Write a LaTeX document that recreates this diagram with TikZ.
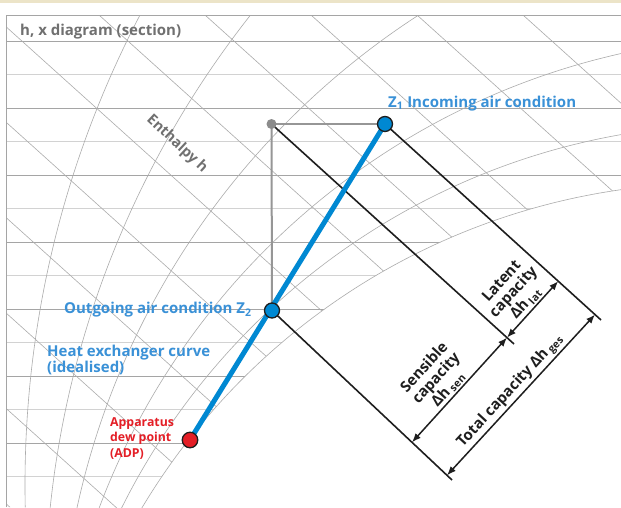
\documentclass[tikz,border=0pt]{standalone}
\usepackage{fontspec}
\setmainfont{Open Sans}
\usetikzlibrary{arrows.meta}
\pgfdeclarelayer{gridlayer}
\pgfdeclarelayer{linelayer}
\pgfsetlayers{gridlayer,linelayer,main}
\definecolor{gridA}{RGB}{165,165,165}
\definecolor{gridB}{RGB}{210,210,210}
\definecolor{gridC}{RGB}{172,172,172}
\definecolor{txtgray}{RGB}{112,112,112}
\definecolor{labelblue}{RGB}{58,145,215}
\definecolor{lineblue}{RGB}{0,136,210}
\definecolor{adpred}{RGB}{228,30,38}
\definecolor{ptgray}{RGB}{140,140,140}
\definecolor{conngray}{RGB}{150,150,150}
\definecolor{beige}{RGB}{236,228,200}
\definecolor{inkblack}{RGB}{30,30,30}
\begin{document}
\begin{tikzpicture}[x=1pt,y=-1pt,
  hline/.style={line width=0.7pt,draw=gridA},
  hlinelight/.style={line width=1.3pt,draw=gridB},
  gridcurve/.style={line width=0.6pt,draw=gridC},
  framestyle/.style={line width=0.9pt,draw=gridA},
  grayconn/.style={line width=2pt,draw=conngray},
  blackline/.style={line width=1.6pt,draw=inkblack},
  blueline/.style={line width=5pt,draw=lineblue},
  dimarrow/.style={line width=1.5pt,draw=inkblack,{Latex[length=9pt,width=7pt]}-{Latex[length=9pt,width=7pt]}},
  bluedot/.style={circle,draw=inkblack,line width=1.3pt,fill=lineblue,minimum size=15pt,inner sep=0pt},
  reddot/.style={circle,draw=inkblack,line width=1.3pt,fill=adpred,minimum size=15.5pt,inner sep=0pt},
  graydot/.style={circle,fill=ptgray,minimum size=10pt,inner sep=0pt},
  titletext/.style={text=txtgray,font=\fontsize{15}{16}\selectfont\bfseries,inner sep=0pt},
  enthtext/.style={text=txtgray,font=\fontsize{14.5}{16}\selectfont\bfseries,inner sep=0pt},
  bluelabel/.style={text=labelblue,font=\fontsize{15}{14.4}\selectfont\bfseries,inner sep=0pt},
  redlabel/.style={text=adpred,font=\fontsize{12.3}{15.5}\selectfont\bfseries,inner sep=0pt},
  dimtext/.style={text=inkblack,font=\fontsize{15}{16}\selectfont\bfseries,inner sep=1.5pt,align=center}
]
\useasboundingbox (0,0) rectangle (621,507);

\begin{pgfonlayer}{gridlayer}
\fill[white] (0,0) rectangle (621,507);
\fill[beige] (0,0) rectangle (621,3);
\begin{scope}
\clip (6,15) -- (621,15) -- plot[domain=98.1:149.2,samples=80] ({715+668*cos(\x)},{851-668*sin(\x)}) -- (6,507) -- cycle;
\foreach \i in {0,...,13}{
  \pgfmathsetmacro\yy{41+33.5*\i}
  \ifodd\i
    \draw[hlinelight] (6,\yy) -- (621,\yy);
  \else
    \draw[hline] (6,\yy) -- (621,\yy);
  \fi
}
\foreach \k in {-5,...,6}{
  \draw[gridcurve] ({-7+106*\k},15) -- ++(570,513);
}
\draw[gridcurve] (1041,485) circle[radius=1016pt];
\draw[gridcurve] (1003,608) circle[radius=958pt];
\draw[gridcurve] (846,676) circle[radius=787pt];
\draw[gridcurve] (780.5,763.5) circle[radius=727.5pt];
\draw[gridcurve] (741.2,816) circle[radius=691.8pt];
\end{scope}
\draw[gridcurve] plot[domain=98.1:149.2,samples=80] ({715+668*cos(\x)},{851-668*sin(\x)});
\draw[framestyle] (6,507) -- (6,15) -- (621,15);
\end{pgfonlayer}

% state points
\node[graydot] (P) at (271.5,124) {};
\node[bluedot] (Z1) at (385,124) {};
\node[bluedot] (Z2) at (272,310.5) {};
\node[reddot] (ADP) at (190,440) {};

% free ends of the enthalpy lines and dimension points
\coordinate (E1) at (601,320);
\coordinate (E2) at (514,344);
\coordinate (E3) at (452,480);
\coordinate (S0) at (412,442.3);
\coordinate (S1) at (507,337.6);
\coordinate (L1) at (558.2,281.2);
\coordinate (T0) at (447,475.3);
\coordinate (T1) at (595,314.6);

\begin{pgfonlayer}{linelayer}
\draw[grayconn] (P.center) -- (Z1.center);
\draw[grayconn] (P.center) -- (Z2.center);
\draw[blackline] (Z1.center) -- (E1);
\draw[blackline] (P.center) -- (E2);
\draw[blackline] (Z2.center) -- (E3);
\draw[blueline] (ADP.center) -- (Z1.center);
\end{pgfonlayer}

% dimension arrows
\draw[dimarrow] (S0) -- node[dimtext,sloped,above,pos=0.45] (senlab) {Sensible\\capacity\\Δh\,\textsubscript{sen}} (S1);
\draw[dimarrow] (S1) -- node[dimtext,sloped,above,pos=0.5] (latlab) {Latent\\capacity\\Δh\,\textsubscript{lat}} (L1);
\draw[dimarrow] (T0) -- node[dimtext,sloped,above,pos=0.48] (totlab) {Total capacity Δh\,\textsubscript{ges}} (T1);

% labels
\node[titletext,anchor=base west] (title) at (20,35) {h, x diagram (section)};
\node[enthtext,rotate=-43] (enth) at (177,144) {Enthalpy h};
\node[bluelabel,anchor=base west] (z1lab) at (388,107) {Z\textsubscript{1} Incoming air condition};
\node[bluelabel,anchor=base west] (z2lab) at (64,313.5) {Outgoing air condition Z\textsubscript{2}};
\node[bluelabel,anchor=north west,align=left] (hxlab) at (47,345) {Heat exchanger curve\\(idealised)};
\node[redlabel,anchor=north west,align=left] (adplab) at (110,417) {Apparatus\\dew point\\(ADP)};
\end{tikzpicture}
\end{document}
